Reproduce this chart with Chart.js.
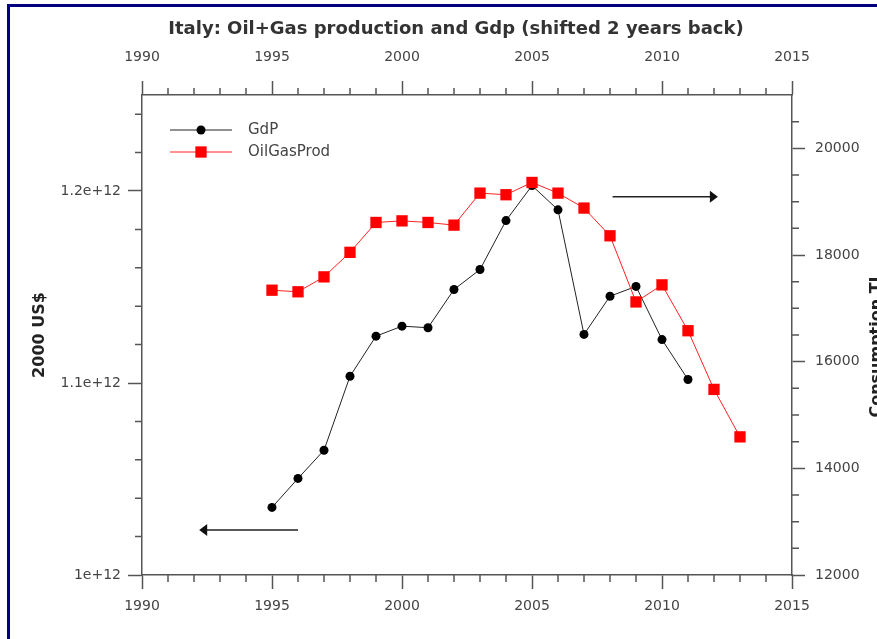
<!DOCTYPE html>
<html>
<head>
<meta charset="utf-8">
<title>Italy: Oil+Gas production and Gdp</title>
<script src="https://cdn.jsdelivr.net/npm/chart.js@4.4.1/dist/chart.umd.min.js"></script>
<style>
  html, body { margin: 0; padding: 0; background: #fff; overflow: hidden; }
  #wrap { position: relative; width: 877px; height: 639px; overflow: hidden; }
  #frame { position: absolute; left: 7px; top: 4px; right: -20px; bottom: -20px;
           border-left: 3px solid #000080; border-top: 3px solid #000080; pointer-events: none; }
  #chart { position: absolute; left: 0; top: 0; }
</style>
</head>
<body>
<div id="wrap">
  <canvas id="chart" width="912" height="639" style="width:912px;height:639px"></canvas>
  <div id="frame"></div>
</div>
<script>
// Data
const gdpYears = [1995, 1996, 1997, 1998, 1999, 2000, 2001, 2002, 2003, 2004, 2005, 2006, 2007, 2008, 2009, 2010, 2011];
const gdpValues = [1.0352e12, 1.0503e12, 1.0650e12, 1.1035e12, 1.1244e12, 1.1296e12, 1.1288e12, 1.1487e12, 1.1591e12,
                   1.1846e12, 1.2028e12, 1.1902e12, 1.1253e12, 1.1452e12, 1.1503e12, 1.1226e12, 1.1018e12];

const oilYears = [1995, 1996, 1997, 1998, 1999, 2000, 2001, 2002, 2003, 2004, 2005, 2006, 2007, 2008, 2009, 2010, 2011, 2012, 2013];
const oilValues = [17340, 17310, 17590, 18050, 18610, 18640, 18610, 18560, 19160, 19130, 19360, 19160, 18880,
                   18360, 17120, 17440, 16580, 15480, 14590];

// Axes
const yearTicks = [1990, 1995, 2000, 2005, 2010, 2015];
const yearTickLabels = ['1990', '1995', '2000', '2005', '2010', '2015'];
const gdpTicks = [1.0e12, 1.1e12, 1.2e12];
const gdpTickLabels = ['1e+12', '1.1e+12', '1.2e+12'];
const oilTicks = [12000, 14000, 16000, 18000, 20000];
const oilTickLabels = ['12000', '14000', '16000', '18000', '20000'];

// Arrows pointing at each series' axis: [x, y] in data units
const gdpArrow = { from: [1996.0, 1.0234e12], to: [1992.2, 1.0234e12] };
const oilArrow = { from: [2008.1, 19090], to: [2012.15, 19090] };

const AXIS_COLOR = '#555';
const TEXT_COLOR = '#444';
const FONT = 'DejaVu Sans';

function minorValues(min, max, step, majorStep) {
  const out = [];
  for (let v = min; v <= max + 1e-9; v += step) {
    const r = Math.abs(v / majorStep - Math.round(v / majorStep));
    if (r > 1e-6) out.push(v);
  }
  return out;
}

// minor tick marks on all four axes
const minorTicks = {
  id: 'minorTicks',
  afterDraw(chart) {
    const { ctx, scales } = chart;
    const len = 7;
    ctx.save();
    ctx.strokeStyle = AXIS_COLOR;
    ctx.lineWidth = 1.5;
    ctx.beginPath();
    minorValues(1990, 2015, 1, 5).forEach(v => {
      const px = scales.x.getPixelForValue(v);
      ctx.moveTo(px, scales.x.top); ctx.lineTo(px, scales.x.top + len);
      ctx.moveTo(px, scales.x2.bottom); ctx.lineTo(px, scales.x2.bottom - len);
    });
    minorValues(1.0e12, 1.25e12, 0.02e12, 0.1e12).forEach(v => {
      const py = scales.y.getPixelForValue(v);
      if (py < scales.y.top) return;
      ctx.moveTo(scales.y.right, py); ctx.lineTo(scales.y.right - len, py);
    });
    minorValues(12000, 21000, 500, 2000).forEach(v => {
      const py = scales.y2.getPixelForValue(v);
      if (py < scales.y2.top + 2) return;
      ctx.moveTo(scales.y2.left, py); ctx.lineTo(scales.y2.left + len, py);
    });
    ctx.stroke();
    ctx.restore();
  }
};

function drawArrow(ctx, x1, y1, x2, y2) {
  const dir = Math.sign(x2 - x1);
  ctx.beginPath();
  ctx.moveTo(x1, y1);
  ctx.lineTo(x2 - dir * 6, y2);
  ctx.stroke();
  ctx.beginPath();
  ctx.moveTo(x2, y2);
  ctx.lineTo(x2 - dir * 8, y2 - 6);
  ctx.lineTo(x2 - dir * 8, y2 + 6);
  ctx.closePath();
  ctx.fill();
}

const arrows = {
  id: 'arrows',
  afterDatasetsDraw(chart) {
    const { ctx, scales } = chart;
    ctx.save();
    ctx.strokeStyle = '#222';
    ctx.fillStyle = '#111';
    ctx.lineWidth = 1.5;
    drawArrow(ctx,
      scales.x.getPixelForValue(gdpArrow.from[0]), scales.y.getPixelForValue(gdpArrow.from[1]),
      scales.x.getPixelForValue(gdpArrow.to[0]), scales.y.getPixelForValue(gdpArrow.to[1]));
    drawArrow(ctx,
      scales.x.getPixelForValue(oilArrow.from[0]), scales.y2.getPixelForValue(oilArrow.from[1]),
      scales.x.getPixelForValue(oilArrow.to[0]), scales.y2.getPixelForValue(oilArrow.to[1]));
    ctx.restore();
  }
};

// legend inside the plot, line + marker sample
const insideLegend = {
  id: 'insideLegend',
  afterDraw(chart) {
    const { ctx, chartArea } = chart;
    ctx.save();
    chart.data.datasets.forEach((ds, i) => {
      const x0 = chartArea.left + 28;
      const y = chartArea.top + 35 + i * 22;
      ctx.strokeStyle = ds.borderColor;
      ctx.lineWidth = 1;
      ctx.beginPath();
      ctx.moveTo(x0, y); ctx.lineTo(x0 + 62, y);
      ctx.stroke();
      ctx.fillStyle = ds.pointBackgroundColor;
      Chart.helpers.drawPoint(ctx, { pointStyle: ds.pointStyle, radius: ds.pointRadius, rotation: 0, borderWidth: 0 }, x0 + 31, y);
      ctx.fillStyle = TEXT_COLOR;
      ctx.font = '15px "' + FONT + '"';
      ctx.textBaseline = 'middle';
      ctx.textAlign = 'left';
      ctx.fillText(ds.label, x0 + 78, y);
    });
    ctx.restore();
  }
};

// right axis title, rotated the same way as the left one
const rightTitle = {
  id: 'rightTitle',
  afterDraw(chart) {
    const { ctx, chartArea } = chart;
    ctx.save();
    ctx.translate(877, (chartArea.top + chartArea.bottom) / 2 + 12);
    ctx.rotate(-Math.PI / 2);
    ctx.font = 'bold 16px "' + FONT + '"';
    ctx.fillStyle = '#222';
    ctx.textAlign = 'center';
    ctx.textBaseline = 'middle';
    ctx.fillText('Consumption TJ', 0, 0);
    ctx.restore();
  }
};

const tickFont = { family: FONT, size: 14 };

function axisGrid(len) {
  return { display: true, drawOnChartArea: false, drawTicks: true, tickLength: len, tickColor: AXIS_COLOR, tickWidth: 1.5 };
}
const axisBorder = { display: true, color: AXIS_COLOR, width: 1.5 };

const TITLE_SIZE = 18;
const titleHeight = TITLE_SIZE * 1.2 + 19 + 5;

new Chart(document.getElementById('chart'), {
  type: 'line',
  data: {
    datasets: [
      {
        label: 'GdP',
        data: gdpValues.map((v, i) => ({ x: gdpYears[i], y: v })),
        xAxisID: 'x',
        yAxisID: 'y',
        borderColor: '#222',
        borderWidth: 1,
        pointStyle: 'circle',
        pointRadius: 4.5,
        pointBackgroundColor: '#000',
        pointBorderWidth: 0,
        order: 1
      },
      {
        label: 'OilGasProd',
        data: oilValues.map((v, i) => ({ x: oilYears[i], y: v })),
        xAxisID: 'x',
        yAxisID: 'y2',
        borderColor: '#f22',
        borderWidth: 1,
        pointStyle: 'rect',
        pointRadius: 8,
        pointBackgroundColor: '#ff0000',
        pointBorderWidth: 0,
        order: 0
      }
    ]
  },
  options: {
    responsive: false,
    animation: false,
    layout: { padding: 0 },
    plugins: {
      legend: { display: false },
      tooltip: { enabled: false },
      title: {
        display: true,
        text: 'Italy: Oil+Gas production and Gdp (shifted 2 years back)',
        color: '#333',
        font: { family: FONT, size: TITLE_SIZE, weight: 'bold' },
        padding: { top: 19, bottom: 5 }
      }
    },
    scales: {
      x: {
        type: 'linear', position: 'bottom', min: 1990, max: 2015,
        afterBuildTicks: s => { s.ticks = yearTicks.map(v => ({ value: v })); },
        afterFit: s => { s.height = 64; },
        ticks: { font: tickFont, color: TEXT_COLOR, padding: 9, maxRotation: 0, autoSkip: false,
                 callback: (v, i) => yearTickLabels[i] },
        grid: axisGrid(14), border: axisBorder
      },
      x2: {
        type: 'linear', position: 'top', min: 1990, max: 2015,
        afterBuildTicks: s => { s.ticks = yearTicks.map(v => ({ value: v })); },
        afterFit: s => { s.height = 95 - titleHeight; },
        ticks: { font: tickFont, color: TEXT_COLOR, padding: 15, maxRotation: 0, autoSkip: false,
                 callback: (v, i) => yearTickLabels[i] },
        grid: axisGrid(14), border: axisBorder
      },
      y: {
        type: 'linear', position: 'left', min: 1.0e12, max: 1.25e12,
        afterBuildTicks: s => { s.ticks = gdpTicks.map(v => ({ value: v })); },
        afterFit: s => { s.width = 142; },
        ticks: { font: tickFont, color: TEXT_COLOR, padding: 7, callback: (v, i) => gdpTickLabels[i] },
        grid: axisGrid(14), border: axisBorder,
        title: {
          display: true, text: '2000 US$', color: '#222',
          font: { family: FONT, size: 16, weight: 'bold' },
          padding: { top: 30, bottom: 0 }
        }
      },
      y2: {
        type: 'linear', position: 'right', min: 12000, max: 21000,
        afterBuildTicks: s => { s.ticks = oilTicks.map(v => ({ value: v })); },
        afterFit: s => { s.width = 912 - 792; },
        ticks: { font: tickFont, color: TEXT_COLOR, padding: 10, callback: (v, i) => oilTickLabels[i] },
        grid: axisGrid(13), border: axisBorder
      }
    }
  },
  plugins: [minorTicks, arrows, insideLegend, rightTitle]
});
</script>
</body>
</html>
